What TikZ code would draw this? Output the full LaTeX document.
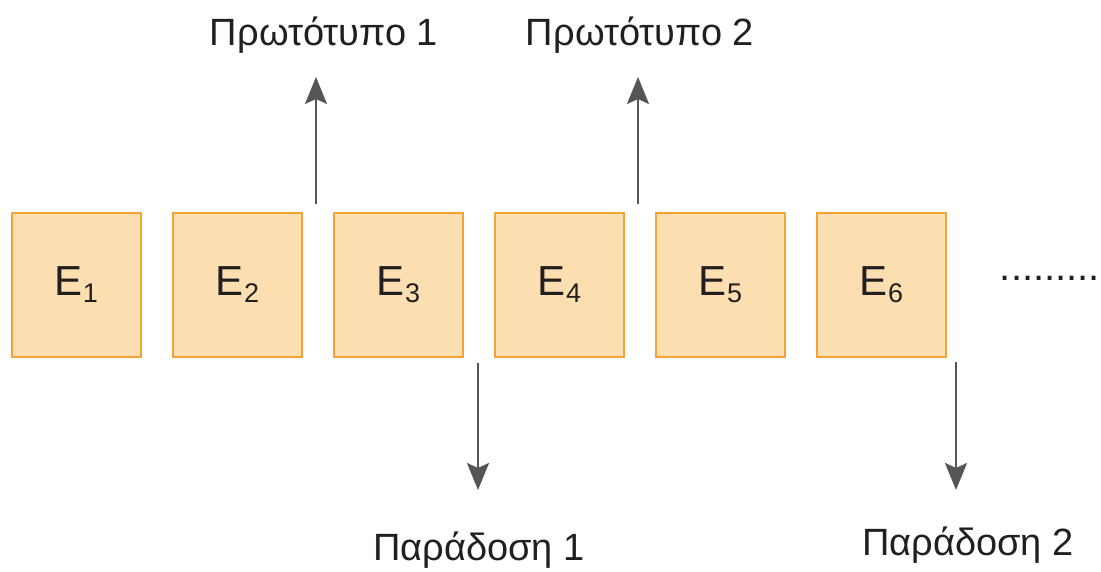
\documentclass[tikz,border=0pt]{standalone}
\usepackage{fontspec}
\setmainfont{Liberation Sans}
\usetikzlibrary{arrows.meta}
\definecolor{stagefill}{HTML}{FCDFB0}
\definecolor{stageedge}{HTML}{F5A332}
\definecolor{arrowgray}{HTML}{555555}
\definecolor{ink}{HTML}{231F20}
\newcommand{\stagelabel}[1]{E\raisebox{-7pt}{\fontsize{27}{27}\selectfont #1}}
\begin{document}
\begin{tikzpicture}[x=1pt,y=-1pt,
  stagebox/.style={draw=stageedge,fill=stagefill,line width=2pt,
    minimum width=129pt,minimum height=143pt,inner sep=0pt,
    text=ink,font=\fontsize{42}{42}\selectfont},
  flow/.style={draw=arrowgray,line width=2pt,
    -{Stealth[length=27pt,width=22pt,inset=5pt]}},
  caption/.style={text=ink,font=\fontsize{38}{38}\selectfont,inner sep=0pt}]
\useasboundingbox (0,0) rectangle (1101,572);
% the six stages of the process
\foreach \i/\x in {1/76.5,2/237.5,3/398.5,4/559.5,5/720.5,6/881.5}
  \node[stagebox] (e\i) at (\x,285) {\stagelabel{\i}};
% continuation dots
\node[text=ink,font=\fontsize{40}{40}\selectfont,inner sep=0pt] (more) at (1050,278) {.........};
% prototypes
\coordinate (p1s) at (316,204);
\coordinate (p2s) at (638,204);
\node[caption] (p1) at (324,35) {Πρωτότυπο 1};
\node[caption] (p2) at (640,35) {Πρωτότυπο 2};
\draw[flow] (p1s) -- (316,77);
\draw[flow] (p2s) -- (638,77);
% deliveries
\coordinate (d1s) at (478,363);
\coordinate (d2s) at (956,362);
\node[caption] (d1) at (479,550) {Παράδοση 1};
\node[caption] (d2) at (968,545) {Παράδοση 2};
\draw[flow] (d1s) -- (478,490);
\draw[flow] (d2s) -- (956,490);
\end{tikzpicture}
\end{document}
